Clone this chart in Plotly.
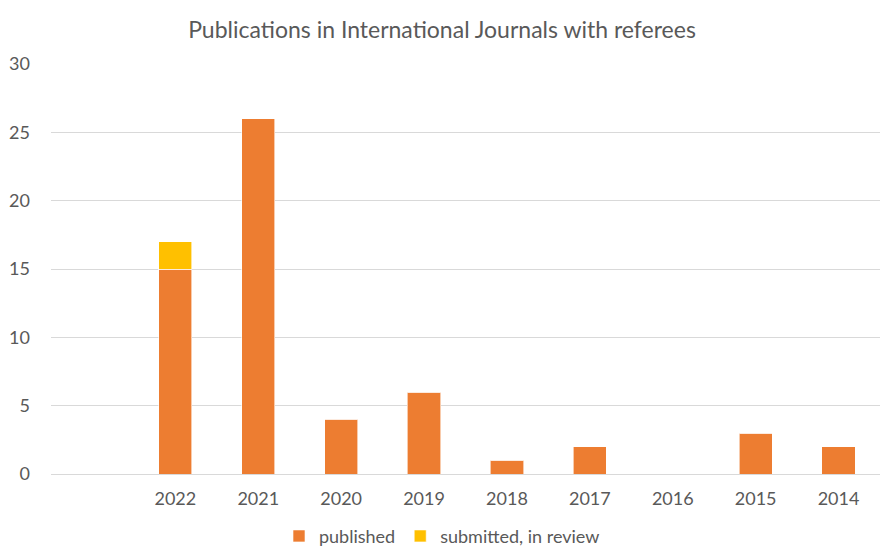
import plotly.graph_objects as go

categories = [" ", "2022", "2021", "2020", "2019", "2018", "2017", "2016", "2015", "2014"]
published = [None, 15, 26, 4, 6, 1, 2, 0, 3, 2]
submitted = [None, 2, 0, 0, 0, 0, 0, 0, 0, 0]

FONT = "Lato, 'Open Sans', sans-serif"
TXT = "#595959"

fig = go.Figure()
fig.add_trace(go.Bar(x=categories, y=published, name="published",
                     marker=dict(color="#ED7D31", line=dict(color="rgba(255,255,255,0.6)", width=1))))
fig.add_trace(go.Bar(x=categories, y=submitted, name="submitted, in review",
                     marker=dict(color="#FFC000", line=dict(color="rgba(255,255,255,0.6)", width=1))))

fig.update_layout(
    width=884, height=558,
    barmode="stack", bargap=0.6,
    paper_bgcolor="white", plot_bgcolor="white",
    margin=dict(l=51, r=4, t=64, b=84),
    font=dict(family=FONT, color=TXT, size=18),
    title=dict(text="Publications in International Journals with referees",
               x=0.5, xref="container", xanchor="center", y=0.946, yanchor="middle",
               font=dict(size=23, color=TXT, family=FONT)),
    legend=dict(orientation="h", x=0.5, xref="container", xanchor="center",
                y=0.039, yref="container", yanchor="middle",
                font=dict(size=18, color=TXT), itemwidth=30, traceorder="normal"),
    xaxis=dict(type="category", categoryorder="array", categoryarray=categories,
               showgrid=False, showline=False, ticks="", ticklabelstandoff=12,
               tickfont=dict(size=18, color=TXT)),
    yaxis=dict(range=[0, 30], dtick=5, showgrid=True, gridcolor="#D9D9D9", gridwidth=1,
               zeroline=True, zerolinecolor="#D9D9D9", zerolinewidth=1,
               showline=False, ticks="", ticklabelstandoff=20,
               tickfont=dict(size=18, color=TXT)),
)

fig.write_html("out.html", config={"displayModeBar": False},
               post_script="document.body.style.margin='0';")
